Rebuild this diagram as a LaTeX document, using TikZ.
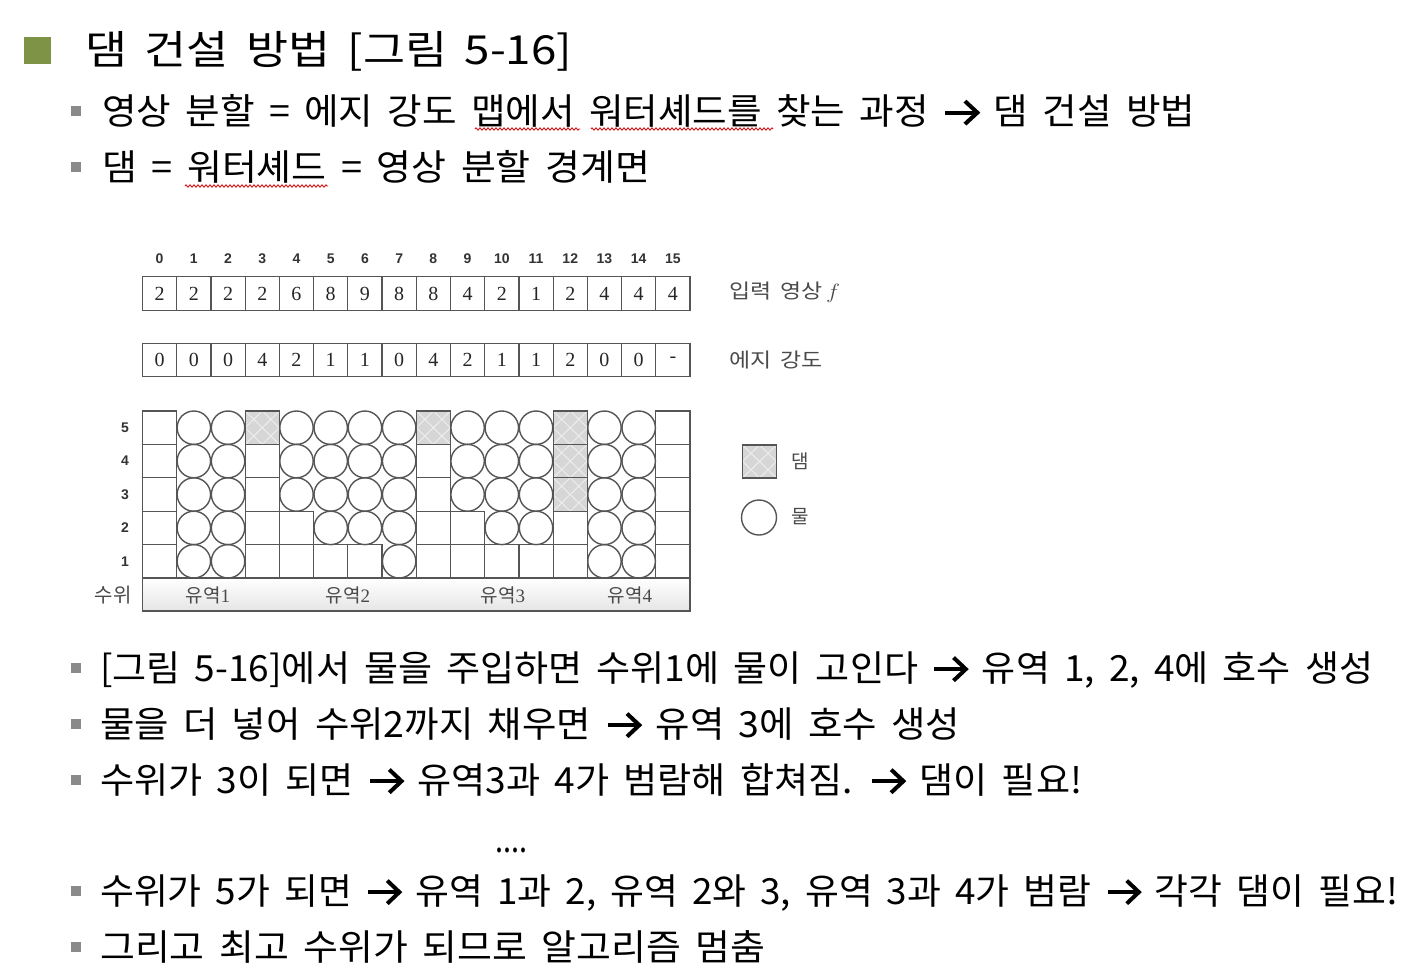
\documentclass[tikz,border=0pt]{standalone}
\usepackage{fontspec}
\usepackage{graphicx}
\setmainfont{Noto Sans CJK KR}[WordSpace=1.7]
\newfontfamily\serifnum{Liberation Serif}
\newfontfamily\sansnum{Liberation Sans}
\usetikzlibrary{decorations.pathmorphing}
\definecolor{olivebul}{HTML}{7F9347}
\definecolor{bulgray}{HTML}{8A8A8A}
\definecolor{gridline}{HTML}{555555}
\definecolor{damfill}{HTML}{D6D6D6}
\definecolor{damline}{HTML}{EDEDED}
\definecolor{labgray}{HTML}{4A4A4A}
\newsavebox\fitbox
\newdimen\fitdim
\newcommand\fitto[2]{\sbox\fitbox{#2}\fitdim=\wd\fitbox\pgfmathsetmacro\fitratio{#1/\the\fitdim}\scalebox{\fitratio}[1]{\usebox\fitbox}}
\newcommand\arr{\tikz[baseline=0pt,x=1em,y=1em,line width=0.11em,line join=miter,line cap=butt]{\draw (0.03,0.33)--(0.85,0.33); \draw (0.55,0.65)--(0.88,0.33)--(0.55,0.01); \path (0,0) (0.9,0);}}
\tikzset{
  txtline/.style={anchor=base west, inner sep=0pt, font=\fontsize{36}{40}\selectfont},
  subbul/.style={fill=bulgray, draw=none, minimum size=10.5pt, inner sep=0pt},
  cellbox/.style={draw=gridline, line width=1.2pt, minimum width=34.22pt, minimum height=33.4pt, inner sep=0pt, font=\serifnum\fontsize{20}{22}\selectfont, text=black!85},
  g0/.style={cellbox},
  g1/.style={draw=gridline, line width=1.4pt, circle, minimum size=33.4pt, inner sep=0pt},
  g2/.style={cellbox, fill=damfill, path picture={
      \draw[damline, line width=1pt]
        (path picture bounding box.south west) -- (path picture bounding box.north east)
        (path picture bounding box.north west) -- (path picture bounding box.south east)
        (path picture bounding box.west) -- (path picture bounding box.north) -- (path picture bounding box.east) -- (path picture bounding box.south) -- cycle;}},
  collab/.style={inner sep=0pt, font=\sansnum\bfseries\fontsize{14}{16}\selectfont, text=black!80},
  lab/.style={inner sep=0pt, text=labgray, font=\fontsize{19}{21}\selectfont},
  squig/.style={draw=red!85!black, line width=0.8pt, decorate, decoration={zigzag, segment length=4pt, amplitude=1.2pt}}
}
\begin{document}
\begin{tikzpicture}[x=1pt,y=-1pt]
\useasboundingbox[fill=white] (0,0) rectangle (1416,974);
% title
\node[fill=olivebul, minimum size=26.4pt, inner sep=0pt] (tb) at (37.5,50.5) {};
\node[anchor=base west, inner sep=0pt, font=\fontsize{40}{44}\selectfont] (title) at (85,64.6) {\fitto{487}{댐 건설 방법 [그림 5-16]}};
% top bullets
\node[subbul] (b1) at (76,111) {};
\node[txtline] (t1) at (102,124.5) {\fitto{1093}{영상 분할 = 에지 강도 맵에서 워터셰드를 찾는 과정 \arr{} 댐 건설 방법}};
\node[subbul] (b2) at (76,167) {};
\node[txtline] (t2) at (102,180) {\fitto{548}{댐 = 워터셰드 = 영상 분할 경계면}};
\coordinate (s1a) at (475,129); \coordinate (s1b) at (580,129);
\coordinate (s2a) at (591,129); \coordinate (s2b) at (773,129);
\coordinate (s3a) at (185,186); \coordinate (s3b) at (328,186);
\draw[squig] (s1a) -- (s1b);
\draw[squig] (s2a) -- (s2b);
\draw[squig] (s3a) -- (s3b);
% column indices
\foreach \k in {0,...,15}
  \node[collab] (c\k) at ({142.5+34.22*(\k+0.5)},259) {\k};
% input row
\foreach \v [count=\i from 0] in {2,2,2,2,6,8,9,8,8,4,2,1,2,4,4,4}
  \node[cellbox] (f\i) at ({142.5+34.22*(\i+0.5)},293.5) {\v};
% edge row
\foreach \v [count=\i from 0] in {0,0,0,4,2,1,1,0,4,2,1,1,2,0,0,-}
  \node[cellbox] (e\i) at ({142.5+34.22*(\i+0.5)},360) {\v};
\node[lab, anchor=west, font=\fontsize{20}{22}\selectfont] (lf) at (729,292) {\fitto{111}{입력 영상\,$f$}};
\node[lab, anchor=west, font=\fontsize{20}{22}\selectfont] (le) at (729,360) {\fitto{93}{에지 강도}};
% grid
\foreach \c/\t in {0/{0,0,0,0,0},1/{1,1,1,1,1},2/{1,1,1,1,1},3/{0,0,0,0,2},4/{0,0,1,1,1},5/{0,1,1,1,1},6/{0,1,1,1,1},7/{1,1,1,1,1},8/{0,0,0,0,2},9/{0,0,1,1,1},10/{0,1,1,1,1},11/{0,1,1,1,1},12/{0,0,2,2,2},13/{1,1,1,1,1},14/{1,1,1,1,1},15/{0,0,0,0,0}}{
  \foreach \s [count=\l] in \t {
    \node[g\s] (g\c-\l) at ({142.5+34.22*(\c+0.5)},{578-33.4*(\l-0.5)}) {};
  }
}
\foreach \l in {1,...,5}
  \node[collab] (r\l) at (125,{578-33.4*(\l-0.5)}) {\l};
% bottom strip
\node[draw=gridline, line width=1.2pt, top color=white, bottom color=black!10, minimum width=547.5pt, minimum height=33pt, inner sep=0pt] (strip) at (416.25,594.5) {};
\node[lab] (u1) at (208,595) {유역{\serifnum 1}};
\node[lab] (u2) at (348,595) {유역{\serifnum 2}};
\node[lab] (u3) at (503,595) {유역{\serifnum 3}};
\node[lab] (u4) at (630,595) {유역{\serifnum 4}};
\node[lab, font=\fontsize{20}{22}\selectfont] (sw) at (113,595) {수위};
% legend
\node[g2, minimum width=34pt, minimum height=33pt] (ldam) at (759.5,461.5) {};
\node[lab] (ldamt) at (800,461) {댐};
\node[g1, minimum size=35pt] (lw) at (759,517.5) {};
\node[lab] (lwt) at (800,517) {물};
% bottom bullets
\node[subbul] (b3) at (76,668) {};
\node[txtline] (t3) at (100,681) {\fitto{1273}{[그림 5-16]에서 물을 주입하면 수위1에 물이 고인다 \arr{} 유역 1, 2, 4에 호수 생성}};
\node[subbul] (b4) at (76,724) {};
\node[txtline] (t4) at (100,737) {\fitto{860}{물을 더 넣어 수위2까지 채우면 \arr{} 유역 3에 호수 생성}};
\node[subbul] (b5) at (76,780) {};
\node[txtline] (t5) at (100,793) {\fitto{982}{수위가 3이 되면 \arr{} 유역3과 4가 범람해 합쳐짐. \arr{} 댐이 필요!}};
\node[txtline] (dots) at (495,852) {\fitto{32}{....}};
\node[subbul] (b6) at (76,891) {};
\node[txtline] (t6) at (100,904) {\fitto{1298}{수위가 5가 되면 \arr{} 유역 1과 2, 유역 2와 3, 유역 3과 4가 범람 \arr{} 각각 댐이 필요!}};
\node[subbul] (b7) at (76,947) {};
\node[txtline] (t7) at (100,960) {\fitto{665}{그리고 최고 수위가 되므로 알고리즘 멈춤}};
\end{tikzpicture}
\end{document}
